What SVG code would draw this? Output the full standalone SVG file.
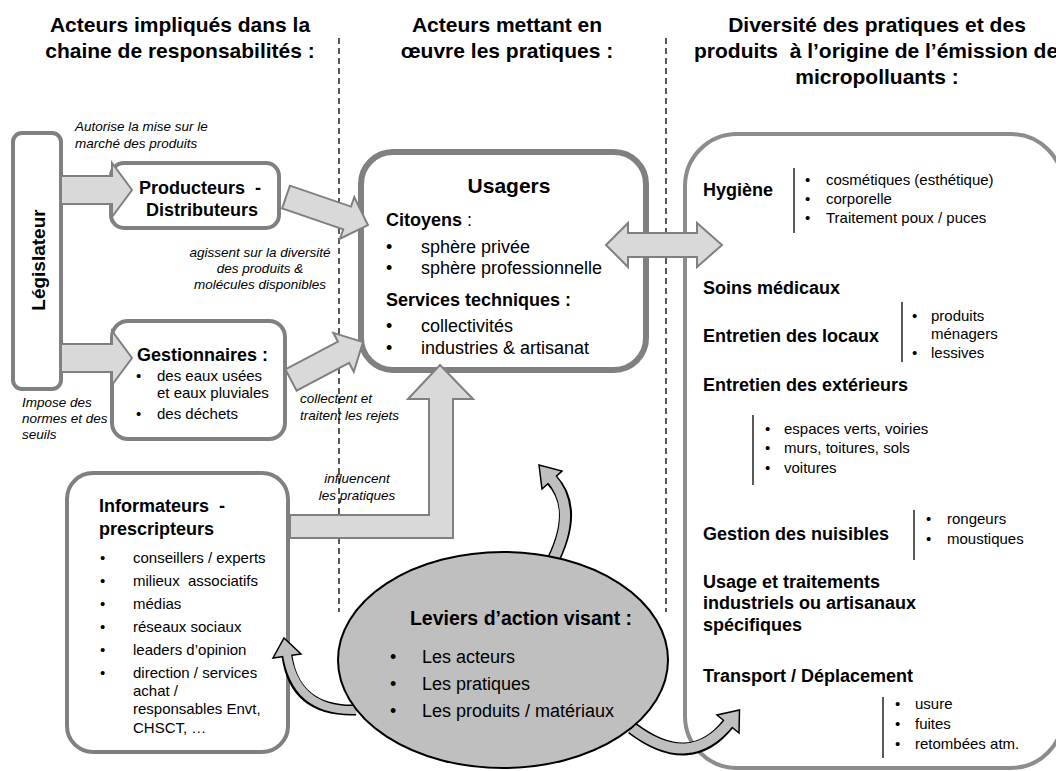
<svg xmlns="http://www.w3.org/2000/svg" width="1056" height="771" viewBox="0 0 1056 771">
<style>
text{font-family:"Liberation Sans",Arial,sans-serif;fill:#000}
.h{font-size:21px;font-weight:bold;text-anchor:middle}
.b18{font-size:18px;font-weight:bold}
.r15{font-size:15px}
.r18{font-size:18px}
.i{font-size:13.5px;font-style:italic}
.box{fill:#fff;stroke:#808080;stroke-width:4}
.arr{fill:#d9d9d9;stroke:#808080;stroke-width:2}
.dash{stroke:#000;stroke-width:1.3;stroke-dasharray:6 4;fill:none}
.vl{stroke:#000;stroke-width:1.3}
.cs{fill:none;stroke:#000;stroke-width:13}
.cg{fill:none;stroke:#bfbfbf;stroke-width:10}
.ch{fill:#bfbfbf;stroke:#000;stroke-width:1.5;stroke-linejoin:miter}
</style>

<g id="titles">
<text class="h" x="180" y="32">Acteurs impliqués dans la</text>
<text class="h" x="180" y="58">chaine de responsabilités :</text>
<text class="h" x="507" y="32">Acteurs mettant en</text>
<text class="h" x="507" y="58">œuvre les pratiques :</text>
<text class="h" x="877" y="32">Diversité des pratiques et des</text>
<text x="694" y="58" style="font-size:21px;font-weight:bold" xml:space="preserve">produits  à l’origine de l’émission de</text>
<text class="h" x="877" y="84">micropolluants :</text>
</g>

<g id="separators">
<line class="dash" x1="339" y1="38" x2="339" y2="612"/>
<line class="dash" x1="666" y1="38" x2="666" y2="612"/>
</g>

<g id="legislateur">
<rect class="box" x="13" y="133" width="48" height="256" rx="9"/>
<text class="b18" style="font-size:19px" text-anchor="middle" transform="translate(45,260) rotate(-90)">Législateur</text>
</g>

<g id="producteurs">
<rect class="box" x="111" y="163" width="168" height="65" rx="13"/>
<text class="b18" x="200" y="194" text-anchor="middle" xml:space="preserve">Producteurs  -</text>
<text class="b18" x="202" y="216" text-anchor="middle">Distributeurs</text>
</g>

<g id="gestionnaires">
<rect class="box" x="112" y="321" width="173" height="118" rx="16"/>
<text class="b18" x="137" y="361">Gestionnaires :</text>
<text class="r15" x="136" y="381">•</text>
<text class="r15" x="157" y="381">des eaux usées</text>
<text class="r15" x="157" y="398">et eaux pluviales</text>
<text class="r15" x="136" y="419">•</text>
<text class="r15" x="157" y="419">des déchets</text>
</g>

<g id="usagers">
<rect x="361" y="152" width="285" height="218" rx="32" fill="#fff" stroke="#808080" stroke-width="6"/>
<text x="509" y="193" style="font-size:21px;font-weight:bold" text-anchor="middle">Usagers</text>
<text x="386" y="226" class="r18"><tspan font-weight="bold">Citoyens</tspan> :</text>
<text class="r18" x="386" y="253">•</text>
<text class="r18" x="421" y="253">sphère privée</text>
<text class="r18" x="386" y="274">•</text>
<text class="r18" x="421" y="274">sphère professionnelle</text>
<text class="b18" x="386" y="306">Services techniques :</text>
<text class="r18" x="386" y="332">•</text>
<text class="r18" x="421" y="332">collectivités</text>
<text class="r18" x="386" y="354">•</text>
<text class="r18" x="421" y="354">industries &amp; artisanat</text>
</g>

<g id="informateurs">
<rect class="box" x="67" y="473" width="221" height="279" rx="26"/>
<text class="b18" x="99" y="512" xml:space="preserve">Informateurs  -</text>
<text class="b18" x="99" y="535">prescripteurs</text>
<text class="r15" x="100" y="563">•</text><text class="r15" x="133" y="563">conseillers / experts</text>
<text class="r15" x="100" y="586">•</text><text class="r15" x="133" y="586" xml:space="preserve">milieux  associatifs</text>
<text class="r15" x="100" y="609">•</text><text class="r15" x="133" y="609">médias</text>
<text class="r15" x="100" y="632">•</text><text class="r15" x="133" y="632">réseaux sociaux</text>
<text class="r15" x="100" y="655">•</text><text class="r15" x="133" y="655">leaders d’opinion</text>
<text class="r15" x="100" y="678">•</text><text class="r15" x="133" y="678">direction / services</text>
<text class="r15" x="133" y="696">achat /</text>
<text class="r15" x="133" y="714">responsables Envt,</text>
<text class="r15" x="133" y="733">CHSCT, …</text>
</g>

<g id="pratiques">
<rect x="685" y="134" width="378" height="634" rx="52" fill="#fff" stroke="#8c8c8c" stroke-width="4"/>
<text class="b18" x="703" y="196">Hygiène</text>
<line class="vl" x1="794" y1="168" x2="794" y2="233"/>
<text class="r15" x="805" y="185">•</text><text class="r15" x="826" y="185">cosmétiques (esthétique)</text>
<text class="r15" x="805" y="204">•</text><text class="r15" x="826" y="204">corporelle</text>
<text class="r15" x="805" y="223">•</text><text class="r15" x="826" y="223">Traitement poux / puces</text>

<text class="b18" x="703" y="294">Soins médicaux</text>

<text class="b18" x="703" y="342">Entretien des locaux</text>
<line class="vl" x1="902" y1="302" x2="902" y2="362"/>
<text class="r15" x="912" y="321">•</text><text class="r15" x="931" y="321">produits</text>
<text class="r15" x="931" y="339">ménagers</text>
<text class="r15" x="912" y="358">•</text><text class="r15" x="931" y="358">lessives</text>

<text class="b18" x="703" y="391">Entretien des extérieurs</text>
<line class="vl" x1="753" y1="415" x2="753" y2="485"/>
<text class="r15" x="765" y="434">•</text><text class="r15" x="784" y="434">espaces verts, voiries</text>
<text class="r15" x="765" y="453">•</text><text class="r15" x="784" y="453">murs, toitures, sols</text>
<text class="r15" x="765" y="473">•</text><text class="r15" x="784" y="473">voitures</text>

<text class="b18" x="703" y="540">Gestion des nuisibles</text>
<line class="vl" x1="914" y1="510" x2="914" y2="560"/>
<text class="r15" x="926" y="524">•</text><text class="r15" x="947" y="524">rongeurs</text>
<text class="r15" x="926" y="544">•</text><text class="r15" x="947" y="544">moustiques</text>

<text class="b18" x="703" y="588">Usage et traitements</text>
<text class="b18" x="703" y="609">industriels ou artisanaux</text>
<text class="b18" x="703" y="631">spécifiques</text>

<text class="b18" x="703" y="682">Transport / Déplacement</text>
<line class="vl" x1="883" y1="697" x2="883" y2="758"/>
<text class="r15" x="895" y="709">•</text><text class="r15" x="915" y="709">usure</text>
<text class="r15" x="895" y="729">•</text><text class="r15" x="915" y="729">fuites</text>
<text class="r15" x="895" y="749">•</text><text class="r15" x="915" y="749">retombées atm.</text>
</g>

<g id="connectors">
<polygon class="arr" points="61,176 112,176 112,163 132,190 112,217 112,204 61,204"/>
<polygon class="arr" points="61,344 112,344 112,331 132,358 112,385 112,372 61,372"/>
<path class="arr" transform="translate(286,197) rotate(18.9)" d="M0,-12 L64.6,-12 L64.6,-22 L86.6,0 L64.6,22 L64.6,12 L0,12 Z"/>
<path class="arr" transform="translate(291,380) rotate(-27.8)" d="M0,-12 L59.4,-12 L59.4,-22 L81.4,0 L59.4,22 L59.4,12 L0,12 Z"/>
<path class="arr" d="M290,515 L429,515 L429,399 L408,399 L440,365 L473,399 L453,399 L453,538 L290,538 Z"/>
<path class="arr" d="M606,245 L628,223 L628,233 L697,233 L697,223 L722,245 L697,267 L697,257 L628,257 L628,267 Z"/>

<path class="cs" d="M550,566 Q580,510 552,480"/>
<polygon class="ch" points="539,465 562,471 542,489"/>
<path class="cg" d="M550,566 Q580,510 550,477"/>

<path class="cs" style="stroke-width:11" d="M356,710 Q295,712 287,656"/>
<polygon class="ch" points="284,638 301,654 273,658"/>
<path class="cg" style="stroke-width:8" d="M356,710 Q295,712 286.6,652"/>

<path class="cs" d="M632,728 Q690,772 728,724"/>
<polygon class="ch" points="739.5,710 739,733 717,715"/>
<path class="cg" d="M632,728 Q690,772 730,721.5"/>
</g>

<g id="leviers">
<ellipse cx="503" cy="660" rx="165" ry="108" fill="#bfbfbf" stroke="#000" stroke-width="2"/>
<text x="521" y="625" style="font-size:19.5px;font-weight:bold" text-anchor="middle">Leviers d’action visant :</text>
<text class="r18" x="390" y="663">•</text><text class="r18" x="422" y="663">Les acteurs</text>
<text class="r18" x="390" y="690">•</text><text class="r18" x="422" y="690">Les pratiques</text>
<text class="r18" x="390" y="717">•</text><text class="r18" x="422" y="717">Les produits / matériaux</text>
</g>

<g id="labels">
<text class="i" x="75" y="131">Autorise la mise sur le</text>
<text class="i" x="75" y="148">marché des produits</text>
<text class="i" x="260" y="257" text-anchor="middle">agissent sur la diversité</text>
<text class="i" x="260" y="273" text-anchor="middle">des produits &amp;</text>
<text class="i" x="260" y="289" text-anchor="middle">molécules disponibles</text>
<text class="i" x="22" y="407">Impose des</text>
<text class="i" x="22" y="423">normes et des</text>
<text class="i" x="22" y="439">seuils</text>
<text class="i" x="300" y="403">collectent et</text>
<text class="i" x="300" y="420">traitent les rejets</text>
<text class="i" x="357" y="483" text-anchor="middle">influencent</text>
<text class="i" x="357" y="500" text-anchor="middle">les pratiques</text>
</g>
</svg>
